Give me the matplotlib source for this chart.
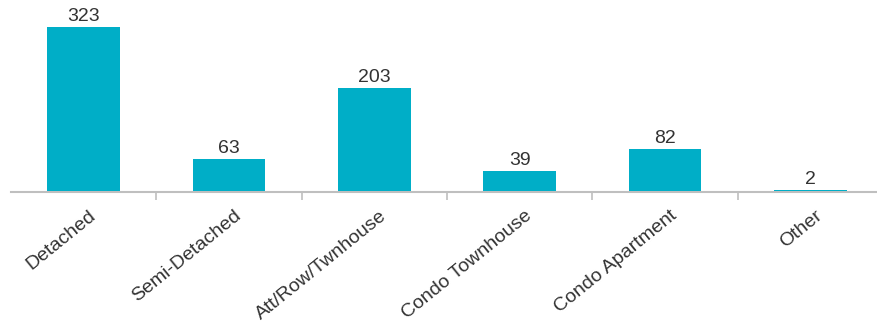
import matplotlib
matplotlib.use("Agg")
import matplotlib.pyplot as plt
import matplotlib.transforms as mtransforms
import numpy as np

# Data
categories = ["Detached", "Semi-Detached", "Att/Row/Twnhouse", "Condo Townhouse", "Condo Apartment", "Other"]
values = [323, 63, 203, 39, 82, 2]

plt.rcParams['font.family'] = ['Liberation Sans', 'DejaVu Sans']

fig = plt.figure(figsize=(8.78, 3.22), dpi=100)
# axes: left edge at x=11px, baseline at y=191px from top
ax = fig.add_axes([11 / 878, 130 / 322, 872 / 878, 192 / 322])

x = np.arange(len(categories))
bars = ax.bar(x, values, width=0.5, color='#00AEC7', zorder=3)

for xi, v in zip(x, values):
    ax.text(xi, v + 4, str(v), ha='center', va='bottom', fontsize=14, color='#333333')

ax.set_xlim(-0.5, len(categories) - 0.5)
ax.set_ylim(-2.5, 376)

# Spines
for s in ['top', 'right', 'left']:
    ax.spines[s].set_visible(False)
ax.spines['bottom'].set_color('#bfbfbf')
ax.spines['bottom'].set_linewidth(1.5)

ax.set_yticks([])
ax.set_xticks(x)
ax.set_xticklabels(categories, rotation=39, ha='right', va='top',
                   rotation_mode='anchor', fontsize=14, color='#333333')
ax.tick_params(axis='x', which='major', length=0, pad=11)
ax.set_xticks(np.arange(0.5, len(categories) - 0.5, 1), minor=True)
ax.tick_params(axis='x', which='minor', length=6, color='#bfbfbf', width=1.2)

# nudge labels to the right a little
offset = mtransforms.ScaledTranslation(5 / 100, 0, fig.dpi_scale_trans)
for lbl in ax.get_xticklabels():
    lbl.set_transform(lbl.get_transform() + offset)

fig.savefig('out.png', dpi=100)
